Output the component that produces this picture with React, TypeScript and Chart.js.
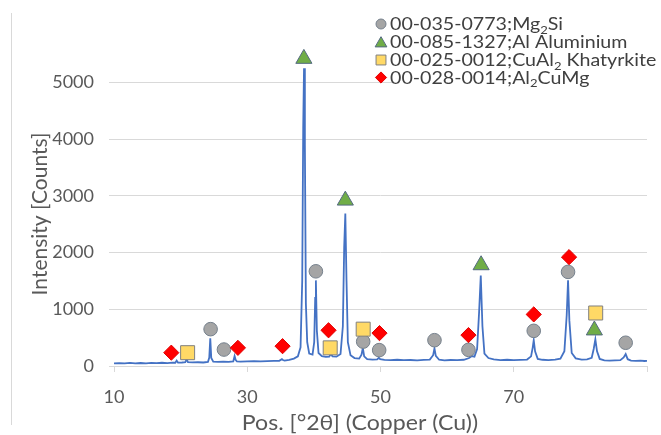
import { useEffect, useRef } from 'react';
import { Chart, registerables } from 'chart.js';
import { drawPoint } from 'chart.js/helpers';

Chart.register(...registerables);

// XRD trace: angle (°2θ) and intensity (counts)
const xrdAngle = [
  10.0, 10.8, 11.6, 12.4, 13.2, 14.0, 14.8, 15.6, 16.4, 17.2, 18.0, 18.8, 19.2, 19.4, 19.6, 20.2, 20.7, 20.9, 21.1, 21.8,
  22.6, 23.4, 24.1, 24.3, 24.45, 24.6, 24.9, 25.6, 26.4, 27.2, 27.9, 28.1, 28.25, 28.45, 29.0, 30.0, 31.0, 32.0, 33.0, 34.0,
  34.8, 35.2, 35.35, 35.6, 36.3, 37.0, 37.6, 38.0, 38.25, 38.4, 38.52, 38.65, 38.8, 39.0, 39.3, 39.8, 40.05, 40.2, 40.3, 40.45,
  40.7, 41.2, 41.8, 42.3, 42.55, 42.8, 43.4, 44.0, 44.35, 44.55, 44.72, 44.9, 45.1, 45.5, 46.1, 46.8, 47.15, 47.35, 47.55, 48.0,
  48.8, 49.5, 49.75, 49.95, 50.6, 51.5, 52.5, 53.5, 54.5, 55.5, 56.5, 57.4, 57.9, 58.1, 58.3, 58.8, 59.6, 60.5, 61.5, 62.5,
  63.3, 63.7, 64.1, 64.5, 64.8, 65.05, 65.3, 65.6, 66.2, 67.0, 68.0, 69.0, 70.0, 71.0, 72.0, 72.6, 72.85, 73.0, 73.2, 73.6,
  74.3, 75.2, 76.2, 77.0, 77.6, 77.95, 78.15, 78.35, 78.7, 79.3, 80.2, 81.0, 81.7, 82.0, 82.25, 82.5, 82.9, 83.6, 84.4, 85.2,
  86.0, 86.5, 86.8, 87.1, 87.6, 88.3, 89.0, 89.6, 90.0,
];
const xrdCounts = [
  45, 52, 47, 55, 48, 53, 46, 54, 50, 57, 52, 60, 58, 95, 60, 62, 66, 120, 68, 63,
  66, 62, 72, 150, 490, 140, 78, 72, 76, 74, 82, 175, 110, 80, 76, 80, 84, 80, 86, 90,
  92, 120, 105, 96, 108, 130, 170, 330, 1500, 4200, 5250, 3900, 1100, 420, 220, 200, 420, 1200, 1510, 620,
  230, 175, 160, 165, 210, 170, 165, 210, 700, 2100, 2690, 1500, 420, 190, 140, 130, 200, 320, 170, 120,
  112, 118, 145, 120, 108, 104, 110, 102, 106, 100, 108, 112, 190, 310, 180, 110, 100, 106, 102, 110,
  140, 175, 165, 300, 950, 1595, 700, 220, 140, 115, 105, 110, 102, 108, 114, 170, 330, 455, 260, 125,
  110, 104, 112, 130, 260, 900, 1510, 800, 230, 135, 112, 118, 145, 300, 470, 260, 125, 100, 96, 100,
  104, 150, 210, 120, 96, 90, 94, 88, 92,
];

// Phase markers (position, height of marker)
const mg2siAngle = [24.5, 26.5, 40.3, 47.4, 49.8, 58.1, 63.2, 73.0, 78.15, 86.8];
const mg2siCounts = [650, 290, 1670, 430, 280, 455, 285, 620, 1660, 410];

const alAngle = [38.5, 44.72, 65.1, 82.1];
const alCounts = [5420, 2920, 1780, 630];

const cuAl2Angle = [21.05, 42.45, 47.4, 82.3];
const cuAl2Counts = [235, 320, 650, 935];

const al2cumgAngle = [18.6, 28.6, 35.3, 42.2, 49.85, 63.2, 73.0, 78.3];
const al2cumgCounts = [235, 320, 350, 630, 580, 545, 910, 1920];

// Legend entries: text segments, subscript flagged
const legendMg2Si = [['00-035-0773;Mg', false], ['2', true], ['Si', false]];
const legendAl = [['00-085-1327;Al Aluminium', false]];
const legendCuAl2 = [['00-025-0012;CuAl', false], ['2', true], [' Khatyrkite', false]];
const legendAl2CuMg = [['00-028-0014;Al', false], ['2', true], ['CuMg', false]];

const xTickLabels = ['10', '30', '50', '70', ''];
const yTickValues = [0, 1000, 2000, 3000, 4000, 5000];

const xTitle = 'Pos. [°2θ] (Copper (Cu))';
const yTitle = 'Intensity [Counts]';

const FONT = 'Lato, "Open Sans", sans-serif';

const STYLES = {
  mg2si: { pointStyle: 'circle', bg: '#A5A5A5', border: '#75808C', r: 6.8, lr: 5 },
  al: { pointStyle: 'triangle', bg: '#70AD47', border: '#546A80', r: 9.3, lr: 6.8 },
  cual2: { pointStyle: 'rect', bg: '#FFD966', border: '#808080', r: 9.9, lr: 7 },
  al2cumg: { pointStyle: 'rectRot', bg: '#FF0000', border: '#E00000', r: 7.6, lr: 5.6 },
};

const toPts = (xs: number[], ys: number[]) => xs.map((x, i) => ({ x, y: ys[i] }));

const stretchText = (ctx: CanvasRenderingContext2D, t: string, x: number, y: number, sx: number) => {
  ctx.save();
  ctx.translate(x, y);
  ctx.scale(sx, 1);
  ctx.fillText(t, 0, 0);
  ctx.restore();
  return ctx.measureText(t).width * sx;
};

const decorPlugin = {
  id: 'decor',
  beforeDraw(chart: any) {
    const { ctx } = chart;
    ctx.save();
    ctx.strokeStyle = '#D9D9D9';
    ctx.lineWidth = 1;
    ctx.beginPath();
    ctx.moveTo(11.5, 13);
    ctx.lineTo(11.5, 425);
    ctx.stroke();
    ctx.restore();
  },
  afterDraw(chart: any) {
    const { ctx } = chart;
    ctx.save();
    // axis titles
    ctx.fillStyle = '#595959';
    ctx.font = `21px ${FONT}`;
    ctx.textAlign = 'center';
    ctx.textBaseline = 'alphabetic';
    stretchText(ctx, xTitle, 360, 430, 1.1);
    ctx.font = `21px ${FONT}`;
    ctx.translate(47, 214);
    ctx.rotate(-Math.PI / 2);
    ctx.fillText(yTitle, 0, 0);
    ctx.restore();

    // legend
    ctx.save();
    ctx.fillStyle = '#FFFFFF';
    ctx.fillRect(392, 70, 265, 18);
    const entries: any[] = [
      [STYLES.mg2si, legendMg2Si],
      [STYLES.al, legendAl],
      [STYLES.cual2, legendCuAl2],
      [STYLES.al2cumg, legendAl2CuMg],
    ];
    const rowY = [24, 42, 60, 77.5];
    entries.forEach(([st, segs], i) => {
      const y = rowY[i];
      ctx.save();
      ctx.fillStyle = st.bg;
      ctx.strokeStyle = st.border;
      ctx.lineWidth = 1;
      const my = st.pointStyle === 'triangle' ? y + 1.5 : y;
      drawPoint(ctx, { pointStyle: st.pointStyle, radius: st.lr, borderWidth: 1, rotation: 0 } as any, 381, my);
      ctx.restore();
      let x = 390;
      ctx.fillStyle = '#404040';
      ctx.textAlign = 'left';
      ctx.textBaseline = 'alphabetic';
      segs.forEach(([t, sub]: [string, boolean]) => {
        ctx.font = sub ? `12px ${FONT}` : `18px ${FONT}`;
        x += stretchText(ctx, t, x, sub ? y + 9.5 : y + 6.3, 1.09);
      });
    });
    ctx.restore();
  },
};

export default function App() {
  const ref = useRef<HTMLCanvasElement>(null);
  useEffect(() => {
    if (!ref.current) return;
    const mk = (label: string, xs: number[], ys: number[], st: any) => ({
      label,
      data: toPts(xs, ys),
      pointStyle: st.pointStyle,
      pointRadius: st.r,
      pointBackgroundColor: st.bg,
      pointBorderColor: st.border,
      pointBorderWidth: 1,
      showLine: false,
      clip: false,
    });
    const chart = new Chart(ref.current, {
      type: 'scatter',
      data: {
        datasets: [
          mk('00-028-0014;Al2CuMg', al2cumgAngle, al2cumgCounts, STYLES.al2cumg),
          mk('00-025-0012;CuAl2 Khatyrkite', cuAl2Angle, cuAl2Counts, STYLES.cual2),
          mk('00-085-1327;Al Aluminium', alAngle, alCounts, STYLES.al),
          mk('00-035-0773;Mg2Si', mg2siAngle, mg2siCounts, STYLES.mg2si),
          {
            label: 'XRD',
            data: toPts(xrdAngle, xrdCounts),
            showLine: true,
            borderColor: '#4472C4',
            borderWidth: 1.8,
            pointRadius: 0,
            tension: 0,
          },
        ],
      },
      options: {
        animation: false,
        responsive: true,
        maintainAspectRatio: false,
        layout: { padding: { top: 24, right: 9, left: 0, bottom: 0 } },
        plugins: { legend: { display: false }, tooltip: { enabled: false } },
        scales: {
          x: {
            type: 'linear',
            min: 10,
            max: 90,
            afterFit: (s: any) => { s.height = 69; },
            ticks: {
              stepSize: 20,
              color: '#595959',
              font: { family: FONT, size: 18 },
              padding: 14,
              maxRotation: 0,
              callback: (_v: any, i: number) => xTickLabels[i],
            },
            grid: { drawOnChartArea: false, drawTicks: true, tickLength: 6, color: '#D9D9D9' },
            border: { display: true, color: '#D9D9D9' },
          },
          y: {
            type: 'linear',
            min: 0,
            max: 6000,
            afterFit: (s: any) => { s.width = 114; },
            afterBuildTicks: (s: any) => { s.ticks = yTickValues.map((v) => ({ value: v })); },
            ticks: {
              color: '#595959',
              font: { family: FONT, size: 18 },
              padding: 15,
              callback: (v: any) => String(v),
            },
            grid: { color: '#D9D9D9', tickLength: 5 },
            border: { display: false },
          },
        },
      },
      plugins: [decorPlugin],
    });
    return () => chart.destroy();
  }, []);
  return (
    <div style={{ position: 'fixed', left: 0, top: 0, width: 661, height: 435, background: '#fff' }}>
      <canvas ref={ref} />
    </div>
  );
}
